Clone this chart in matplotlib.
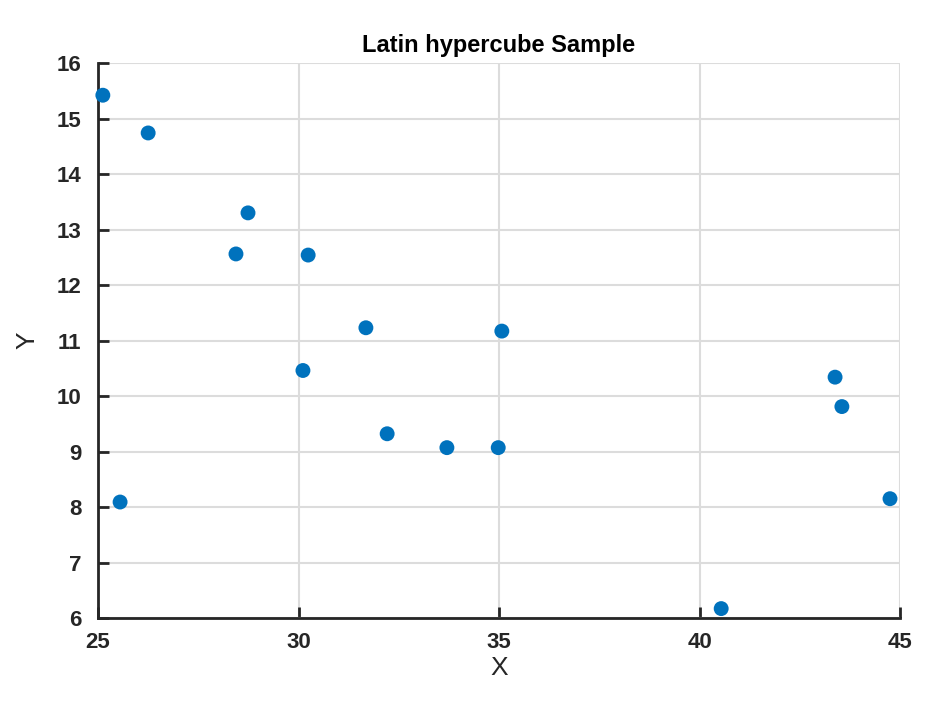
import matplotlib
matplotlib.use('Agg')
import matplotlib.pyplot as plt

# Latin hypercube sample points
x_vals = [25.12, 26.25, 28.74, 28.44, 30.24, 31.68, 35.07, 30.11,
          32.21, 33.70, 34.98, 25.55, 43.38, 43.55, 44.75, 40.54]
y_vals = [15.42, 14.74, 13.30, 12.56, 12.54, 11.23, 11.17, 10.46,
          9.32, 9.07, 9.07, 8.09, 10.34, 9.81, 8.15, 6.17]

x_ticks = [25, 30, 35, 40, 45]
y_ticks = [6, 7, 8, 9, 10, 11, 12, 13, 14, 15, 16]

plt.rcParams['font.family'] = ['Liberation Sans', 'DejaVu Sans']
text_color = '#262626'

fig = plt.figure(figsize=(9.39, 7.13), dpi=100)
ax = fig.add_axes([0.1044, 0.1332, 0.8541, 0.7784])

ax.scatter(x_vals, y_vals, s=115, color='#0072BD', edgecolors='none',
           zorder=3, clip_on=False)

ax.set_xlim(25, 45)
ax.set_ylim(6, 16)
ax.set_xticks(x_ticks)
ax.set_yticks(y_ticks)

ax.spines['top'].set_visible(False)
ax.spines['right'].set_visible(False)
for s in ['left', 'bottom']:
    ax.spines[s].set_linewidth(2)
    ax.spines[s].set_color(text_color)

ax.grid(True, color='#dcdcdc', linewidth=1.5)
ax.set_axisbelow(True)
ax.tick_params(direction='in', length=8, width=2, color=text_color,
               labelsize=16, labelcolor=text_color)
ax.tick_params(axis='x', pad=10)
ax.tick_params(axis='y', pad=12)
for lbl in ax.get_xticklabels() + ax.get_yticklabels():
    lbl.set_fontweight('bold')

ax.set_xlabel('X', fontsize=19, color=text_color, labelpad=2)
ax.set_ylabel('Y', fontsize=19, color=text_color, labelpad=12)
ax.set_title('Latin hypercube Sample', fontsize=17, fontweight='bold',
             color='black', pad=8)

fig.savefig('out.png', dpi=100)
